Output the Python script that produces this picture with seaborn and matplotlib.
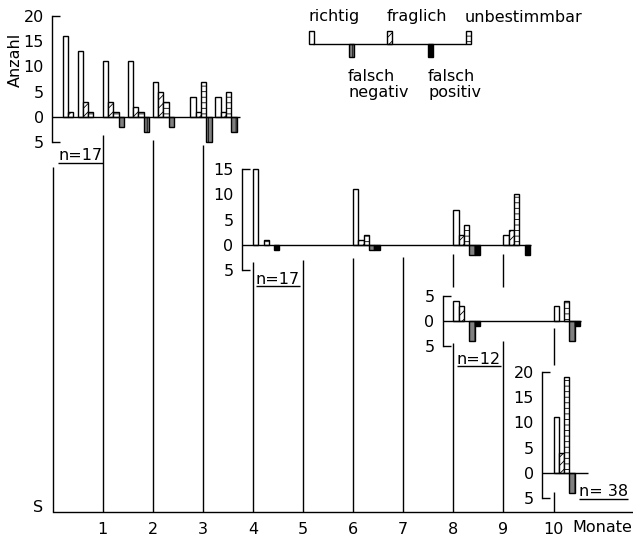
import matplotlib
matplotlib.use("Agg")
import matplotlib.pyplot as plt
import numpy as np
import pandas as pd
import seaborn as sns

# Befundkategorien (Reihenfolge der Balken innerhalb einer Gruppe)
categories = ["richtig", "fraglich", "unbestimmbar", "falsch negativ", "falsch positiv"]
down_categories = ["falsch negativ", "falsch positiv"]

# Kohorte 1, n=17
p1_monate = [0.2, 0.5, 1.0, 1.5, 2.0, 2.75, 3.25]
p1_richtig = [16, 13, 11, 11, 7, 4, 4]
p1_fraglich = [1, 3, 3, 2, 5, 1, 1]
p1_unbestimmbar = [0, 1, 1, 1, 3, 7, 5]
p1_falsch_neg = [0, 0, 2, 3, 2, 5, 3]
p1_falsch_pos = [0, 0, 0, 0, 0, 0, 0]

# Kohorte 2, n=17
p2_monate = [4, 6, 8, 9]
p2_richtig = [15, 11, 7, 2]
p2_fraglich = [0, 1, 2, 3]
p2_unbestimmbar = [1, 2, 4, 10]
p2_falsch_neg = [0, 1, 2, 0]
p2_falsch_pos = [1, 1, 2, 2]

# Kohorte 3, n=12
p3_monate = [8, 10]
p3_richtig = [4, 3]
p3_fraglich = [3, 0]
p3_unbestimmbar = [0, 4]
p3_falsch_neg = [4, 4]
p3_falsch_pos = [1, 1]

# Kohorte 4, n=38
p4_monate = [10]
p4_richtig = [11]
p4_fraglich = [4]
p4_unbestimmbar = [19]
p4_falsch_neg = [4]
p4_falsch_pos = [0]

month_ticks = list(range(1, 11))

# --- layout (pixels of the 633x539 picture) ---
PX_W, PX_H = 633, 539
X0_PX = 52.5
PX_PER_MONTH = 50.1
PX_PER_UNIT = 5.07
SLOT = 0.106
BASE_ROW = 512
XLIM = (-X0_PX / PX_PER_MONTH, (PX_W - X0_PX) / PX_PER_MONTH)
FS = 11.5

palette = {"richtig": "white", "fraglich": "white", "unbestimmbar": "white",
           "falsch negativ": "#808080", "falsch positiv": "black"}
hatches = {"richtig": "", "fraglich": "////", "unbestimmbar": "---",
           "falsch negativ": "|||", "falsch positiv": ""}

sns.set_theme(style="white")
plt.rcParams["font.family"] = ["DejaVu Sans"]
plt.rcParams.update({"axes.edgecolor": "black", "text.color": "black",
                     "xtick.color": "black", "ytick.color": "black",
                     "hatch.linewidth": 0.6})

fig = plt.figure(figsize=(6.33, 5.39), dpi=100)
fig.patch.set_facecolor("white")

# main time axis, y in pixel rows
ax = fig.add_axes([0, (PX_H - BASE_ROW) / PX_H, 1, BASE_ROW / PX_H])
ax.patch.set_visible(False)
ax.set_xlim(*XLIM)
ax.set_ylim(BASE_ROW, 0)
for s in ["top", "right", "left"]:
    ax.spines[s].set_visible(False)
ax.spines["bottom"].set_bounds(0, XLIM[1])
ax.spines["bottom"].set_linewidth(1.0)
ax.set_xticks(month_ticks)
ax.set_yticks([])
ax.tick_params(axis="x", length=0, pad=7, labelsize=FS)

month_segments = [(0, 167, 512), (1, 135, 512), (2, 140, 512), (3, 145, 512),
                  (4, 262, 512), (5, 260, 512), (6, 258, 512), (7, 257, 512),
                  (8, 254, 287), (8, 343, 512), (9, 254, 287), (9, 341, 512),
                  (10, 328, 365), (10, 492, 512)]
for m, top, bot in month_segments:
    ax.vlines(m, top, bot, color="black", lw=1.0)

ax.text(-0.29, 512, "S", ha="center", va="baseline", fontsize=FS)
ax.text(10.37, 527, "Monate", ha="left", va="center", fontsize=FS)
ax.text(-0.74, 60, "Anzahl", rotation=90, ha="center", va="center", fontsize=FS)


def draw_panel(monate, series, zero_row, axis_x, zero_end, top):
    pax = fig.add_axes([0, 0, 1, 1])
    pax.patch.set_visible(False)
    rows = []
    for i, m in enumerate(monate):
        for k, cat in enumerate(categories):
            if series[k][i] == 0:
                continue
            sign = -1 if cat in down_categories else 1
            rows.append({"pos": m + (k + 0.5) * SLOT, "wert": sign * series[k][i],
                         "kat": cat})
    df = pd.DataFrame(rows)
    present = [c for c in categories if c in set(df["kat"])]
    native = np.min(np.diff(np.unique(df["pos"])))
    sns.barplot(data=df, x="pos", y="wert", hue="kat", hue_order=present,
                palette=palette, native_scale=True, errorbar=None,
                width=SLOT / native, saturation=1, legend=False, ax=pax)
    for cont, cat in zip(pax.containers, present):
        for bar in cont:
            bar.set_facecolor(palette[cat])
            bar.set_edgecolor("black")
            bar.set_linewidth(1.0)
            bar.set_hatch(hatches[cat])
    pax.set_xlim(*XLIM)
    pax.set_ylim(-(PX_H - zero_row) / PX_PER_UNIT, zero_row / PX_PER_UNIT)
    pax.set_xlabel("")
    pax.set_ylabel("")
    pax.set_xticks([])
    for s in ["top", "right", "bottom"]:
        pax.spines[s].set_visible(False)
    pax.spines["left"].set_position(("data", axis_x))
    pax.spines["left"].set_bounds(-5, top)
    pax.spines["left"].set_linewidth(1.0)
    yt = list(range(-5, top + 1, 5))
    pax.set_yticks(yt)
    pax.set_yticklabels([str(abs(v)) for v in yt])
    pax.tick_params(axis="y", direction="out", length=4, width=1.0, pad=2,
                    labelsize=FS)
    for t, v in zip(pax.yaxis.get_major_ticks(), yt):
        if v in (-5, 0, top):
            t.tick1line.set_visible(False)
    pax.hlines([top, -5], axis_x, axis_x + 0.16, color="black", lw=1.0)
    pax.hlines(0, axis_x, zero_end, color="black", lw=1.0, zorder=3)
    return pax


draw_panel(p1_monate, [p1_richtig, p1_fraglich, p1_unbestimmbar, p1_falsch_neg,
                       p1_falsch_pos], 117, -0.01, 3.74, 20)
draw_panel(p2_monate, [p2_richtig, p2_fraglich, p2_unbestimmbar, p2_falsch_neg,
                       p2_falsch_pos], 245, 3.78, 9.55, 15)
draw_panel(p3_monate, [p3_richtig, p3_fraglich, p3_unbestimmbar, p3_falsch_neg,
                       p3_falsch_pos], 321, 7.79, 10.55, 5)
draw_panel(p4_monate, [p4_richtig, p4_fraglich, p4_unbestimmbar, p4_falsch_neg,
                       p4_falsch_pos], 473, 9.77, 10.69, 20)

# n labels, underlined
n_labels = [("n=17", 0.56, 156), ("n=17", 4.5, 279), ("n=12", 8.51, 359),
            ("n= 38", 11.0, 492)]
n_texts = []
for txt, x, row in n_labels:
    n_texts.append((ax.text(x, row, txt, ha="center", va="center", fontsize=FS), row))
fig.canvas.draw()
inv = ax.transData.inverted()
for t, row in n_texts:
    bb = t.get_window_extent()
    x1 = inv.transform((bb.x0, bb.y0))[0]
    x2 = inv.transform((bb.x1, bb.y0))[0]
    ax.hlines(row + 7, x1, x2, color="black", lw=1.0)

# legend drawn as a small bar key, pixel coordinates
lax = fig.add_axes([0, 0, 1, 1])
lax.set_xlim(0, PX_W)
lax.set_ylim(PX_H, 0)
lax.axis("off")
key_x = {"richtig": 309, "falsch negativ": 349, "fraglich": 387,
         "falsch positiv": 428, "unbestimmbar": 466}
for cat, x in key_x.items():
    h = 13 if cat in down_categories else -13
    lax.bar(x, h, width=4.5, bottom=44, align="edge", facecolor=palette[cat],
            edgecolor="black", linewidth=1.0, hatch=hatches[cat])
lax.hlines(44, 313, 466, color="black", lw=1.0)
lax.text(308, 21.5, "richtig", ha="left", va="baseline", fontsize=FS)
lax.text(387, 21.5, "fraglich", ha="left", va="baseline", fontsize=FS)
lax.text(465, 21.5, "unbestimmbar", ha="left", va="baseline", fontsize=FS)
lax.text(348, 81, "falsch", ha="left", va="baseline", fontsize=FS)
lax.text(348, 97, "negativ", ha="left", va="baseline", fontsize=FS)
lax.text(428, 81, "falsch", ha="left", va="baseline", fontsize=FS)
lax.text(428, 97, "positiv", ha="left", va="baseline", fontsize=FS)

fig.savefig("out.png", dpi=100)
